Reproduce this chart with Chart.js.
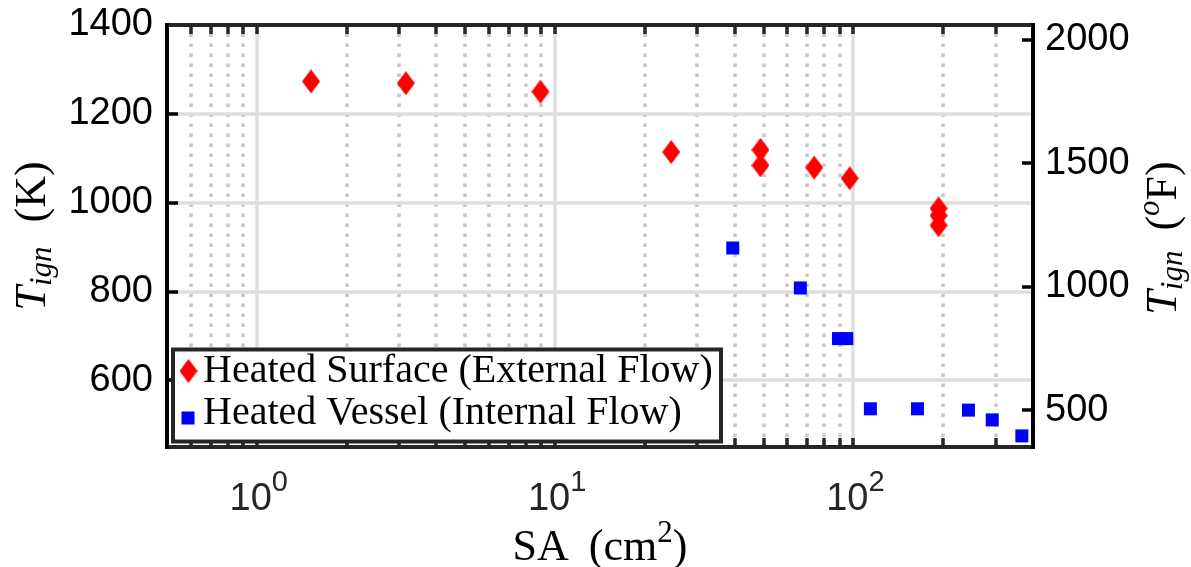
<!DOCTYPE html>
<html>
<head>
<meta charset="utf-8">
<script src="https://cdn.jsdelivr.net/npm/chart.js@4.4.1/dist/chart.umd.min.js"></script>
<style>
  html, body { margin: 0; padding: 0; background: #fff; }
  canvas { display: block; }
</style>
</head>
<body>
<canvas id="c" width="1191" height="567"></canvas>
<script>
// Heated surface (external flow): surface area (cm^2) and ignition temperature (K)
const surfaceSA = [1.52, 3.16, 8.93, 24.5, 48.8, 48.8, 73.9, 97.2, 193, 193, 193];
const surfaceT  = [1273, 1269, 1250, 1114, 1119, 1084, 1079, 1055, 987, 971, 949];

// Heated vessel (internal flow): surface area (cm^2) and ignition temperature (K)
const vesselSA = [39.4, 66.4, 89.1, 95.0, 114, 164, 243, 292, 367];
const vesselT  = [898, 808, 694, 694, 536, 536, 533, 511, 475];

const seriesNames = ['Heated Surface (External Flow)', 'Heated Vessel (Internal Flow)'];

// Axis ranges and tick labels
const saMin = 0.5, saMax = 400;
const kMin = 450, kMax = 1400;
const kTicks = [600, 800, 1000, 1200, 1400];
const fTicks = [500, 1000, 1500, 2000];
const xDecades = [1, 10, 100];
const xExponents = ['0', '1', '2'];

const toF = k => k * 1.8 - 459.67;

const SERIF = '"Liberation Serif", "DejaVu Serif", serif';
const SANS = '"Liberation Sans", Arial, sans-serif';

// Tall diamond marker
function makeDiamond(w, h, color) {
  const c = document.createElement('canvas');
  c.width = w; c.height = h;
  const g = c.getContext('2d');
  g.fillStyle = color;
  g.beginPath();
  g.moveTo(w / 2, 0);
  g.lineTo(w, h / 2);
  g.lineTo(w / 2, h);
  g.lineTo(0, h / 2);
  g.closePath();
  g.fill();
  return c;
}
const diamond = makeDiamond(18, 24, '#ff0000');

// Minor grid positions of the log axis (2..9 in each decade)
const minorSA = [];
[0.1, 1, 10, 100].forEach(d => {
  for (let m = 2; m <= 9; m++) {
    const v = +(m * d).toPrecision(3);
    if (v > saMin && v < saMax) minorSA.push(v);
  }
});

// Draw a run of text pieces (with sub/superscripts) centred on the origin
function drawRich(ctx, parts, cx, cy, rot) {
  ctx.save();
  ctx.translate(cx, cy);
  if (rot) ctx.rotate(rot);
  let total = 0;
  parts.forEach(p => {
    ctx.font = p.font || ('10px ' + SERIF);
    p.w = p.gap != null ? p.gap : ctx.measureText(p.t).width;
    total += p.w;
  });
  let x = -total / 2;
  ctx.textBaseline = 'alphabetic';
  ctx.textAlign = 'left';
  parts.forEach(p => {
    if (p.t) {
      ctx.font = p.font;
      ctx.fillStyle = p.color || '#000';
      ctx.fillText(p.t, x, p.dy || 0);
    }
    x += p.w;
  });
  ctx.restore();
}

const framePlugin = {
  id: 'frame',
  beforeDatasetsDraw(chart) {
    const { ctx, chartArea: a, scales } = chart;
    const x = scales.x, y = scales.y;
    ctx.save();
    ctx.lineCap = 'butt';
    // dotted minor grid
    ctx.lineWidth = 3.5;
    ctx.strokeStyle = '#c6c6c6';
    ctx.setLineDash([3.5, 6.5]);
    minorSA.forEach(v => {
      const px = Math.round(x.getPixelForValue(v));
      ctx.beginPath();
      ctx.moveTo(px, a.bottom);
      ctx.lineTo(px, a.top);
      ctx.stroke();
    });
    // solid major grid
    ctx.setLineDash([]);
    ctx.strokeStyle = '#dedede';
    xDecades.forEach(v => {
      const px = Math.round(x.getPixelForValue(v));
      ctx.beginPath();
      ctx.moveTo(px, a.bottom);
      ctx.lineTo(px, a.top);
      ctx.stroke();
    });
    kTicks.forEach(v => {
      const py = Math.round(y.getPixelForValue(v));
      ctx.beginPath();
      ctx.moveTo(a.left, py);
      ctx.lineTo(a.right, py);
      ctx.stroke();
    });
    ctx.restore();
  },
  afterDatasetsDraw(chart) {
    const { ctx, chartArea: a, scales } = chart;
    const x = scales.x, y = scales.y, yF = scales.yF;
    ctx.save();
    ctx.setLineDash([]);
    ctx.lineCap = 'butt';
    // inward tick marks
    ctx.lineWidth = 3.5;
    ctx.strokeStyle = '#262626';
    minorSA.concat(xDecades).forEach(v => {
      const px = Math.round(x.getPixelForValue(v));
      ctx.beginPath();
      ctx.moveTo(px, a.top); ctx.lineTo(px, a.top + 9);
      ctx.moveTo(px, a.bottom); ctx.lineTo(px, a.bottom - 9);
      ctx.stroke();
    });
    ctx.strokeStyle = '#000';
    kTicks.forEach(v => {
      const py = Math.round(y.getPixelForValue(v));
      ctx.beginPath();
      ctx.moveTo(a.left, py); ctx.lineTo(a.left + 11, py);
      ctx.stroke();
    });
    fTicks.forEach(v => {
      const py = Math.round(yF.getPixelForValue(v));
      ctx.beginPath();
      ctx.moveTo(a.right, py); ctx.lineTo(a.right - 11, py);
      ctx.stroke();
    });
    // box
    ctx.lineWidth = 4;
    ctx.strokeStyle = '#262626';
    ctx.beginPath();
    ctx.moveTo(a.left, a.top); ctx.lineTo(a.right, a.top);
    ctx.moveTo(a.left, a.bottom); ctx.lineTo(a.right, a.bottom);
    ctx.stroke();
    ctx.strokeStyle = '#000';
    ctx.beginPath();
    ctx.moveTo(a.left, a.top - 2); ctx.lineTo(a.left, a.bottom + 2);
    ctx.moveTo(a.right, a.top - 2); ctx.lineTo(a.right, a.bottom + 2);
    ctx.stroke();

    // legend
    const lx = 173, ly = 349.5, lw = 548, lh = 92;
    ctx.fillStyle = '#fff';
    ctx.fillRect(lx, ly, lw, lh);
    ctx.lineWidth = 4;
    ctx.strokeStyle = '#262626';
    ctx.strokeRect(lx, ly, lw, lh);
    const ds = chart.data.datasets;
    ctx.drawImage(ds[0].pointStyle, 188.5 - 9, 371 - 12);
    ctx.fillStyle = ds[1].backgroundColor;
    ctx.fillRect(188 - 6.5, 418 - 6.5, 13, 13);
    ctx.fillStyle = '#000';
    ctx.font = '40px ' + SERIF;
    ctx.textAlign = 'left';
    ctx.textBaseline = 'alphabetic';
    ctx.fillText(ds[0].label, 203, 382);
    ctx.fillText(ds[1].label, 203, 424);
    ctx.restore();
  },
  afterDraw(chart) {
    const { ctx, chartArea: a, scales } = chart;
    const x = scales.x;
    // decade labels on the log axis
    xDecades.forEach((v, i) => {
      const px = x.getPixelForValue(v);
      drawRich(ctx, [
        { t: '10', font: '38px ' + SANS, color: '#262626' },
        { t: xExponents[i], font: '29px ' + SANS, dy: -19, color: '#262626' }
      ], px + 2, 510, 0);
    });
    const cy = (a.top + a.bottom) / 2;
    const big = '44px ' + SERIF, bigI = 'italic 44px ' + SERIF, sub = 'italic 31px ' + SERIF;
    // left title
    drawRich(ctx, [
      { t: 'T', font: bigI },
      { t: 'ign', font: sub, dy: 6 },
      { gap: 24 },
      { t: '(K)', font: big }
    ], 45, cy, -Math.PI / 2);
    // right title
    drawRich(ctx, [
      { t: 'T', font: bigI },
      { t: 'ign', font: sub, dy: 6 },
      { gap: 20 },
      { t: '(', font: big },
      { t: 'o', font: sub, dy: -17 },
      { t: 'F)', font: big }
    ], 1176, cy + 2, -Math.PI / 2);
    // bottom title
    drawRich(ctx, [
      { t: 'SA', font: big },
      { gap: 20 },
      { t: '(cm', font: big },
      { t: '2', font: '31px ' + SERIF, dy: -18 },
      { t: ')', font: big }
    ], a.left + a.width / 2, 560, 0);
  }
};

const plainTick = v => String(v);

// Fixed axis box sizes; labels may overhang the plot edges
const fixVertical = w => s => {
  s.width = w;
  s.paddingTop = 0;
  s.paddingBottom = 0;
};

new Chart(document.getElementById('c'), {
  type: 'scatter',
  data: {
    datasets: [
      {
        label: seriesNames[0],
        data: surfaceSA.map((v, i) => ({ x: v, y: surfaceT[i] })),
        pointStyle: diamond,
        pointRadius: 12,
        backgroundColor: '#ff0000',
        borderWidth: 0,
        xAxisID: 'x', yAxisID: 'y'
      },
      {
        label: seriesNames[1],
        data: vesselSA.map((v, i) => ({ x: v, y: vesselT[i] })),
        pointStyle: 'rect',
        pointRadius: 9.2,
        backgroundColor: '#0000ff',
        borderWidth: 0,
        xAxisID: 'x', yAxisID: 'y'
      }
    ]
  },
  options: {
    responsive: false,
    animation: false,
    devicePixelRatio: 1,
    events: [],
    layout: { padding: { top: 25, left: 0, right: 0, bottom: 0 } },
    plugins: { legend: { display: false }, tooltip: { enabled: false } },
    scales: {
      x: {
        type: 'logarithmic', position: 'bottom', min: saMin, max: saMax,
        grid: { display: false, drawTicks: false }, border: { display: false },
        ticks: { display: false },
        afterFit: s => { s.height = 120; s.paddingLeft = 0; s.paddingRight = 0; }
      },
      y: {
        type: 'linear', position: 'left', min: kMin, max: kMax,
        grid: { display: false, drawTicks: false }, border: { display: false },
        ticks: { font: { family: SANS, size: 38, lineHeight: 0.5 }, color: '#000', padding: 14, autoSkip: false, callback: plainTick },
        afterBuildTicks: s => { s.ticks = kTicks.map(v => ({ value: v })); },
        afterFit: fixVertical(167)
      },
      yF: {
        type: 'linear', position: 'right', min: toF(kMin), max: toF(kMax),
        grid: { display: false, drawTicks: false }, border: { display: false },
        ticks: { font: { family: SANS, size: 38, lineHeight: 0.5 }, color: '#000', padding: 12, autoSkip: false, callback: plainTick },
        afterBuildTicks: s => { s.ticks = fTicks.map(v => ({ value: v })); },
        afterFit: fixVertical(158)
      }
    }
  },
  plugins: [framePlugin]
});
</script>
</body>
</html>
